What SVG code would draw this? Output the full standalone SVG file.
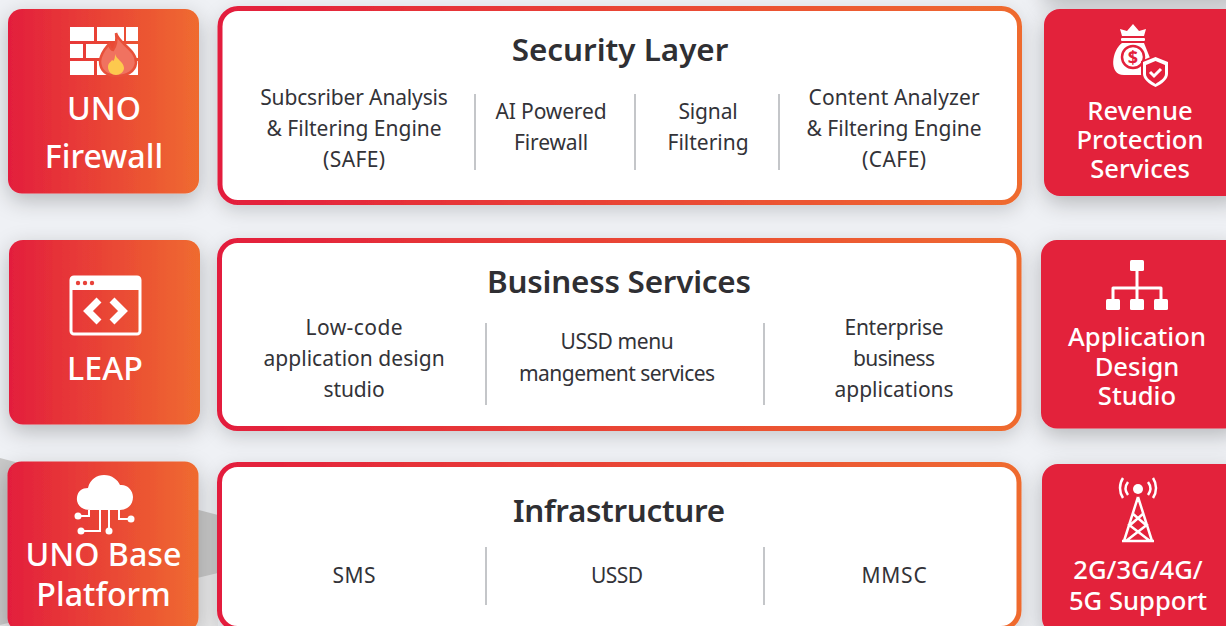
<svg xmlns="http://www.w3.org/2000/svg" width="1226" height="626" viewBox="0 0 1226 626">
<style>
text{font-family:"Noto Sans","Open Sans","Liberation Sans",sans-serif;text-anchor:middle}
.w{fill:#fff}
.t{fill:#fff;font-size:32.200px;font-weight:500}
.r{fill:#fff;font-size:25.600px;font-weight:500}
.h{fill:#2f2f33;font-size:31.400px;font-weight:600}
.b{fill:#333338;font-size:21px;letter-spacing:-.15px}
.p{fill:#fff;stroke:url(#g);stroke-width:5}
.d{stroke:#c4c6c9;stroke-width:2}
.l{stroke:#fff;stroke-width:3;fill:none}
</style>
<defs>
<linearGradient id="g" x1="0" x2="1" y1="0" y2="0"><stop offset="0" stop-color="#e31e3c"/><stop offset="1" stop-color="#ef6b2f"/></linearGradient>
<filter id="s" x="-25%" y="-25%" width="150%" height="150%"><feDropShadow dx="0" dy="7" stdDeviation="11" flood-color="#000" flood-opacity=".24"/></filter>
<filter id="s2" x="-10%" y="-25%" width="120%" height="150%"><feDropShadow dx="0" dy="6" stdDeviation="9" flood-color="#000" flood-opacity=".16"/></filter>
</defs>
<rect width="1226" height="626" fill="#eff1f5"/>
<polygon points="0,575 218,573 218,626 0,626" fill="#e9e9ea"/>
<polygon points="0,458 218,515 218,573 0,625" fill="#c9c9c9"/>
<rect x="1044" y="-190" width="200" height="187" fill="#e3203b" filter="url(#s)"/>
<g id="connectors"/>
<g id="uno-firewall">
<rect x="8" y="9" width="191" height="184.500" rx="14" fill="url(#g)" filter="url(#s)"/>
<g class="w"><rect x="70" y="27" width="24" height="14"/><rect x="97" y="27" width="27" height="14"/><rect x="126" y="27" width="12" height="14"/><rect x="70" y="44" width="13" height="14"/><rect x="86" y="44" width="24" height="14"/><rect x="70" y="61" width="24" height="14"/><rect x="97" y="61" width="12" height="14"/><rect x="126" y="44" width="12" height="14"/><rect x="126" y="61" width="12" height="14"/></g>
<path d="M116 33C119 44 137 50 136 63C135 72 126 76 117 76C107 76 100 71 100 61C101 52 106 48 109 44C110 48 111 50 113 50C116 46 117 40 116 33Z" fill="#f07260" stroke="#e8503a" stroke-width="2.500"/>
<path d="M115 54C116 59 124 62 124 68C124 72 120 75 116 75C112 75 108 72 108 67C108 63 111 62 112 60C113 61 114 61 114 60C115 58 115 56 115 54Z" fill="#fdc94e"/>
<text class="t" x="104" y="120">UNO</text><text class="t" x="104" y="168">Firewall</text>
</g>
<g id="security-layer">
<rect class="p" x="220" y="8.500" width="799.500" height="194" rx="18" filter="url(#s2)"/>
<text class="h" x="620" y="61">Security Layer</text>
<text class="b" x="354" y="105">Subcsriber Analysis</text><text class="b" x="354" y="136" textLength="175">&amp; Filtering Engine</text><text class="b" x="354" y="167" textLength="62">(SAFE)</text>
<text class="b" x="551" y="119">AI Powered</text><text class="b" x="551" y="150">Firewall</text>
<text class="b" x="708" y="119">Signal</text><text class="b" x="708" y="150" textLength="81">Filtering</text>
<text class="b" x="894" y="105" textLength="171">Content Analyzer</text><text class="b" x="894" y="136" textLength="175">&amp; Filtering Engine</text><text class="b" x="894" y="167" textLength="64">(CAFE)</text>
<line class="d" x1="475" y1="94" x2="475" y2="170"/><line class="d" x1="635" y1="94" x2="635" y2="170"/><line class="d" x1="779" y1="94" x2="779" y2="170"/>
</g>
<g id="revenue-protection">
<rect x="1044" y="9" width="200" height="187" rx="16" fill="#e3203b" filter="url(#s)"/>
<g class="w"><path d="M1120 29L1127 31 1133 24 1139 31 1146 29 1144 36H1122Z"/><rect x="1121" y="38" width="24" height="3" rx="1"/><path d="M1122 43C1112 50 1108 75 1124 75H1146C1152 75 1153 65 1150 58L1144 43Z"/></g>
<circle cx="1133" cy="57" r="11" fill="#fff" stroke="#e3203b" stroke-width="2.500"/><text x="1133" y="64" font-size="18" font-weight="700" fill="#e3203b">$</text>
<path d="M1155.500 55L1170 61V74C1170 80 1163 85 1155.500 89C1148 85 1141 80 1141 74V61Z" fill="#e3203b"/>
<path d="M1155.500 57L1168 62V74C1168 79 1162 84 1155.500 87C1149 84 1143 79 1143 74V62Z" fill="#fff"/>
<path d="M1155.500 61L1165 65V74C1165 78 1160 81 1155.500 84C1151 81 1146 78 1146 74V65Z" fill="#e3203b"/>
<path d="M1150 72L1154 76 1161 69" stroke="#fff" stroke-width="3" fill="none"/>
<text class="r" x="1140" y="120">Revenue</text><text class="r" x="1140" y="149">Protection</text><text class="r" x="1140" y="178">Services</text>
</g>
<g id="leap">
<rect x="9" y="240" width="191" height="184.500" rx="14" fill="url(#g)" filter="url(#s)"/>
<rect x="71" y="277" width="69" height="57" rx="3" fill="none" stroke="#fff" stroke-width="3"/>
<path d="M70 280a4 4 0 0 1 4-4h63a4 4 0 0 1 4 4v10H70Z" fill="#fff"/>
<g fill="#e8423a"><circle cx="78" cy="283" r="2.200"/><circle cx="85" cy="283" r="2.200"/><circle cx="92" cy="283" r="2.200"/></g>
<path d="M99 300L88 311 99 322M112 300L123 311 112 322" fill="none" stroke="#fff" stroke-width="7"/>
<text class="t" x="105" y="380">LEAP</text>
</g>
<g id="business-services">
<rect class="p" x="219.500" y="240.500" width="799.500" height="188" rx="18" filter="url(#s2)"/>
<text class="h" x="619" y="293" textLength="264">Business Services</text>
<text class="b" x="354" y="335" textLength="97">Low-code</text><text class="b" x="354" y="366" textLength="181">application design</text><text class="b" x="354" y="397" textLength="61">studio</text>
<text class="b" x="617" y="349" textLength="113">USSD menu</text><text class="b" x="617" y="381" textLength="196">mangement services</text>
<text class="b" x="894" y="335" textLength="99">Enterprise</text><text class="b" x="894" y="366" textLength="82">business</text><text class="b" x="894" y="397" textLength="119">applications</text>
<line class="d" x1="486" y1="323" x2="486" y2="405"/><line class="d" x1="764" y1="323" x2="764" y2="405"/>
</g>
<g id="application-design-studio">
<rect x="1041" y="240" width="200" height="188.500" rx="16" fill="#e3203b" filter="url(#s)"/>
<g class="w"><rect x="1130" y="260" width="14" height="11" rx="1.500"/><rect x="1106" y="299" width="14" height="11" rx="1.500"/><rect x="1130" y="299" width="14" height="11" rx="1.500"/><rect x="1154" y="299" width="14" height="11" rx="1.500"/></g>
<path class="l" stroke-linejoin="round" d="M1137 270V299M1113 299V288H1161V299"/>
<text class="r" x="1137" y="346">Application</text><text class="r" x="1137" y="376">Design</text><text class="r" x="1137" y="405">Studio</text>
</g>
<g id="uno-base-platform">
<rect x="7.500" y="461.500" width="191" height="170" rx="14" fill="url(#g)" filter="url(#s)"/>
<path class="w" d="M90 510C80 510 76 503 77 497C78 491 82 488 88 488C90 479 97 475 104 475C112 475 118 480 120 485C127 484 133 490 133 497C133 505 127 510 120 510Z"/>
<path class="l" style="stroke-width:2" d="M78 516H89V510M81 531H100V510M109 510V530M119 510V519H130"/>
<g class="w"><circle cx="78" cy="516" r="3.500"/><circle cx="81" cy="531" r="3.500"/><circle cx="109" cy="531" r="3.500"/><circle cx="131" cy="519" r="3.500"/></g>
<text class="t" x="103.500" y="566">UNO Base</text><text class="t" x="103.500" y="606">Platform</text>
</g>
<g id="infrastructure">
<rect class="p" x="219.500" y="464.500" width="799.500" height="164" rx="18" filter="url(#s2)"/>
<text class="h" x="619" y="522" textLength="212">Infrastructure</text>
<text class="b" x="354" y="583" textLength="43">SMS</text><text class="b" x="617" y="583" textLength="52">USSD</text><text class="b" x="894" y="583" textLength="65">MMSC</text>
<line class="d" x1="486" y1="547" x2="486" y2="605"/><line class="d" x1="764" y1="547" x2="764" y2="605"/>
</g>
<g id="network-support">
<rect x="1042" y="464" width="200" height="170" rx="16" fill="#e3203b" filter="url(#s)"/>
<path class="l" style="stroke-width:2.500" d="M1138 497L1124 541M1138 497L1152 541M1122 541H1154M1128 524L1150 541M1148 524L1126 541M1132 513L1147 526M1144 513L1129 526"/>
<path class="l" style="stroke-width:2.500" d="M1128 482C1125 486 1125 491 1128 495M1148 482C1151 486 1151 491 1148 495M1123 478C1119 484 1119 492 1123 498M1153 478C1157 484 1157 492 1153 498"/>
<circle class="w" cx="1138" cy="489" r="5"/>
<text class="r" x="1138" y="579">2G/3G/4G/</text><text class="r" x="1138" y="610">5G Support</text>
</g>
</svg>
